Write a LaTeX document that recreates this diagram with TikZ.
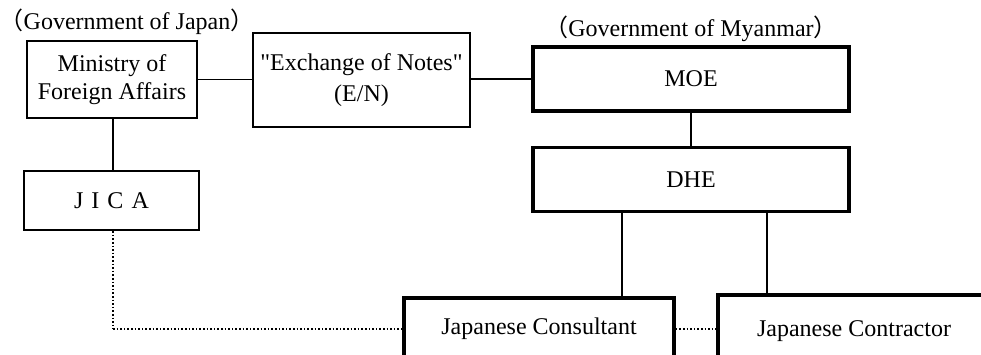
\documentclass[tikz,border=0pt]{standalone}
\usepackage{fontspec}
\newfontfamily\enfont{Liberation Serif}
\newfontfamily\cjk{Noto Sans CJK JP}
\usetikzlibrary{positioning}

\begin{document}
\begin{tikzpicture}[x=1pt,y=-1pt]
	\tikzstyle{every node}=[font=\enfont\fontsize{24}{28}\selectfont]
	\tikzstyle{box}=[draw,line width=2.2pt,inner sep=0pt,align=center]
	\tikzstyle{thickbox}=[draw,line width=3.6pt,inner sep=0pt,align=center]
	\tikzstyle{link}=[line width=1.6pt]
	\tikzstyle{dotlink}=[line width=1.6pt,dotted]

	%%page frame
	\useasboundingbox (0,0) rectangle (981,355);
	\clip (0,0) rectangle (981,355);

	%%Japan side
	\node (gj) at (127,22) {{\cjk （}Government of Japan{\cjk ）}};
	\node [box,minimum width=170,minimum height=77] (mofa) at (112,79.5) {Ministry of\\Foreign Affairs};
	\node [box,minimum width=175,minimum height=59] (jica) at (111.5,200.5) {J\,\,I\,\,C\,\,A};
	\node [box,minimum width=217,minimum height=94] (en) at (361.5,80) {"Exchange of Notes"\\[3pt](E/N)};

	%%Myanmar side
	\node (gm) at (691,29) {{\cjk （}Government of Myanmar{\cjk ）}};
	\node [thickbox,minimum width=316,minimum height=64] (moe) at (691,79) {MOE};
	\node [thickbox,minimum width=316,minimum height=64] (dhe) at (691,179.5) {DHE};

	%%consultant and contractor
	\node [thickbox,minimum width=270,minimum height=62] (cons) at (539,329) {Japanese Consultant};
	\node [thickbox,minimum width=272,minimum height=72] (cont) at (854,331) {Japanese Contractor};

	%%links
	\draw [link] (mofa.east) -- (mofa.east -| en.west);
	\draw [link] (en.east |- moe.west) -- (moe.west);
	\draw [link] (moe.south) -- (dhe.north);
	\draw [link] (mofa.south -| 113,0) -- (jica.north -| 113,0);
	\draw [link] (dhe.south -| 622,0) -- (cons.north -| 622,0);
	\draw [link] (dhe.south -| 767,0) -- (cont.north -| 767,0);
	\draw [dotlink,line width=2.2pt] (jica.south -| 113,0) -- (113,329);
	\draw [dotlink] (113,329) -- (cons.west);
	\draw [dotlink] (cons.east) -- (cont.west |- cons.east);

\end{tikzpicture}
\end{document}
